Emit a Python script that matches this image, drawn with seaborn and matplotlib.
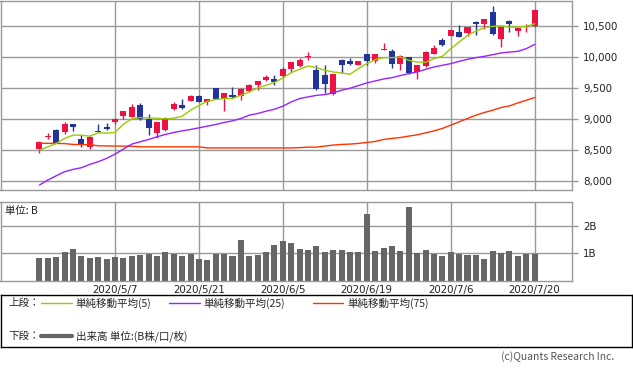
import numpy as np
import pandas as pd
import matplotlib
matplotlib.use("Agg")
import matplotlib.pyplot as plt
import seaborn as sns

# ---- data ----
opens = [8521, 8720, 8823, 8790, 8919, 8677, 8553, 8806, 8871, 8952,
         9048, 9032, 9226, 9000, 8779, 8823, 9161, 9226, 9290, 9371,
         9274, 9500, 9323, 9387, 9371, 9452, 9548, 9629, 9645, 9694,
         9806, 9855, 10010, 9790, 9710, 9403, 9952, 9935, 9871, 10048,
         9935, 10120, 10097, 9887, 10000, 9758, 9855, 10048, 10274, 10339,
         10403, 10387, 10565, 10532, 10726, 10290, 10581, 10419, 10484, 10500]
highs = [8645, 8769, 8839, 8952, 8919, 8742, 8731, 8919, 8935, 9027,
         9129, 9242, 9258, 9081, 8952, 9030, 9274, 9323, 9387, 9387,
         9323, 9510, 9419, 9516, 9500, 9565, 9613, 9710, 9710, 9839,
         9919, 9984, 10081, 9871, 9871, 9726, 9968, 9984, 9940, 10048,
         10060, 10226, 10129, 10030, 10000, 9871, 10097, 10194, 10306, 10435,
         10516, 10484, 10581, 10613, 10823, 10484, 10597, 10468, 10532, 10774]
lows = [8456, 8682, 8608, 8758, 8806, 8553, 8521, 8790, 8818, 8919,
        9000, 9032, 8984, 8742, 8698, 8811, 9145, 9161, 9290, 9274,
        9226, 9323, 9129, 9339, 9306, 9435, 9468, 9613, 9548, 9661,
        9758, 9839, 9952, 9468, 9419, 9387, 9742, 9871, 9871, 9871,
        9903, 10113, 9823, 9790, 9726, 9645, 9839, 10048, 10177, 10339,
        10323, 10339, 10355, 10452, 10355, 10161, 10403, 10339, 10403, 10484]
closes = [8624, 8730, 8608, 8919, 8871, 8597, 8710, 8790, 8839, 9000,
          9129, 9194, 8995, 8860, 8952, 9016, 9242, 9177, 9371, 9274,
          9323, 9323, 9419, 9355, 9484, 9548, 9613, 9677, 9597, 9806,
          9919, 9952, 10020, 9484, 9565, 9726, 9871, 9887, 9935, 9935,
          10048, 10130, 9887, 10016, 9742, 9871, 10081, 10145, 10194, 10435,
          10323, 10484, 10532, 10613, 10371, 10484, 10532, 10468, 10500, 10758]
ma5 = [8500, 8553, 8608, 8689, 8742, 8742, 8726, 8779, 8774, 8785,
       8919, 9005, 9027, 9021, 9016, 9005, 9016, 9048, 9145, 9221,
       9290, 9318, 9334, 9334, 9387, 9440, 9505, 9548, 9592, 9666,
       9753, 9806, 9860, 9836, 9790, 9763, 9747, 9726, 9818, 9898,
       9962, 9995, 9995, 10005, 9952, 9924, 9919, 9979, 10016, 10140,
       10247, 10355, 10424, 10479, 10500, 10511, 10489, 10489, 10500, 10543]
ma25 = [7935, 8016, 8085, 8150, 8188, 8215, 8269, 8312, 8366, 8435,
        8516, 8597, 8634, 8672, 8715, 8753, 8785, 8811, 8833, 8860,
        8887, 8914, 8947, 8973, 9011, 9065, 9092, 9129, 9161, 9210,
        9279, 9334, 9360, 9385, 9398, 9425, 9468, 9500, 9543, 9586,
        9618, 9650, 9672, 9705, 9737, 9763, 9806, 9844, 9871, 9898,
        9935, 9968, 9995, 10016, 10043, 10070, 10086, 10097, 10140, 10210]
ma75 = [8610, 8610, 8608, 8605, 8592, 8590, 8588, 8570, 8568, 8565,
        8565, 8562, 8553, 8553, 8553, 8553, 8553, 8553, 8553, 8553,
        8535, 8535, 8535, 8535, 8535, 8535, 8535, 8535, 8535, 8535,
        8535, 8540, 8548, 8548, 8565, 8581, 8592, 8597, 8608, 8624,
        8640, 8672, 8689, 8704, 8726, 8747, 8779, 8811, 8850, 8903,
        8957, 9011, 9065, 9108, 9145, 9189, 9215, 9263, 9306, 9350]
volume_b = [0.83, 0.83, 0.86, 1.05, 1.16, 0.90, 0.83, 0.86, 0.79, 0.86,
            0.83, 0.90, 0.94, 0.98, 0.90, 1.05, 0.98, 0.90, 0.98, 0.79,
            0.75, 0.98, 0.98, 0.90, 1.49, 0.90, 0.94, 1.05, 1.31, 1.46,
            1.38, 1.16, 1.12, 1.27, 1.05, 1.12, 1.12, 1.05, 1.05, 2.46,
            1.09, 1.20, 1.27, 1.09, 2.72, 1.01, 1.12, 0.98, 0.90, 1.05,
            0.98, 0.94, 0.94, 0.79, 1.09, 1.01, 1.09, 0.90, 0.98, 0.98]
date_tick_pos = [9, 19, 29, 39, 49, 59]
date_tick_labels = ["2020/5/7", "2020/5/21", "2020/6/5", "2020/6/19", "2020/7/6", "2020/7/20"]
price_ticks = [8000, 8500, 9000, 9500, 10000, 10500]
volume_ticks = [1, 2]
legend_labels = ["単純移動平均(5)", "単純移動平均(25)", "単純移動平均(75)"]
volume_label = "出来高 単位:(B株/口/枚)"

# ---- style ----
UP = "#EE1144"
DOWN = "#22339A"
C5 = "#99CC00"
C25 = "#9922FF"
C75 = "#FF3300"
GRID = "#999999"
CJK = ["Noto Sans CJK JP", "DejaVu Sans"]

sns.set_style("white")
plt.rcParams['font.family'] = ["DejaVu Sans", "Noto Sans CJK JP"]

W, H = 633, 375
fig = plt.figure(figsize=(W / 100, H / 100), dpi=100)

def fx(px):
    return px / W

def fy(py):
    return 1 - py / H

XL = (-4.64, 63.45)
idx = np.arange(len(closes))
df = pd.DataFrame({"i": idx, "open": opens, "high": highs, "low": lows,
                   "close": closes, "ma5": ma5, "ma25": ma25, "ma75": ma75,
                   "vol": volume_b})

# ---- top panel ----
ax1 = fig.add_axes([fx(0.5), fy(190), fx(572 - 0.5), (190 - 0.5) / H])
up = df["close"] >= df["open"]
colors = np.where(up, UP, DOWN)
ax1.vlines(df["i"], df["low"], df["high"], colors=colors, lw=1.0, zorder=2)
body_bottom = np.minimum(df["open"], df["close"])
body_h = np.maximum(np.abs(df["close"] - df["open"]), 16)
ax1.bar(df["i"], body_h, bottom=body_bottom, width=0.72, color=colors,
        linewidth=0, zorder=2)
sns.lineplot(data=df, x="i", y="ma75", color=C75, lw=1.0, ax=ax1, zorder=3)
sns.lineplot(data=df, x="i", y="ma25", color=C25, lw=1.0, ax=ax1, zorder=3)
sns.lineplot(data=df, x="i", y="ma5", color=C5, lw=1.0, ax=ax1, zorder=3)
ax1.set_xlim(*XL)
ax1.set_ylim(7855, 10919)
ax1.set_yticks(price_ticks)
ax1.set_yticklabels([f"{v:,}" for v in price_ticks])
ax1.yaxis.tick_right()
ax1.set_xticks(date_tick_pos)
ax1.set_xticklabels([])
ax1.tick_params(axis="x", length=0)
ax1.tick_params(axis="y", length=4, width=1, color=GRID, pad=4,
                labelsize=7.4, labelcolor="#222222")
ax1.grid(True, color=GRID, lw=1)
ax1.set_axisbelow(True)
ax1.set_xlabel("")
ax1.set_ylabel("")
for s in ax1.spines.values():
    s.set_color(GRID)
    s.set_linewidth(1)

# ---- volume panel ----
ax2 = fig.add_axes([fx(0.5), fy(280.5), fx(572 - 0.5), 78.5 / H])
sns.barplot(data=df, x="i", y="vol", native_scale=True, color="#666666",
            saturation=1, width=0.72, linewidth=0, ax=ax2, zorder=2)
ax2.set_xlim(*XL)
ax2.set_ylim(0, 2.89)
ax2.set_yticks(volume_ticks)
ax2.set_yticklabels([f"{v}B" for v in volume_ticks])
ax2.yaxis.tick_right()
ax2.set_xticks(date_tick_pos)
ax2.set_xticklabels(date_tick_labels)
ax2.tick_params(axis="x", length=0, pad=3, labelsize=7.4, labelcolor="#222222")
ax2.tick_params(axis="y", length=4, width=1, color=GRID, pad=4,
                labelsize=7.4, labelcolor="#222222")
ax2.grid(True, color=GRID, lw=1)
ax2.set_axisbelow(True)
ax2.set_xlabel("")
ax2.set_ylabel("")
for s in ax2.spines.values():
    s.set_color(GRID)
    s.set_linewidth(1)
fig.text(fx(5), fy(211), "単位: B", family=CJK, fontsize=7.5,
         va="center", ha="left", color="#222222")

# ---- legend box ----
ax3 = fig.add_axes([fx(0.5), fy(347), fx(631.5), 52 / H])
ax3.set_xlim(0, 631.5)
ax3.set_ylim(52, 0)
ax3.set_xticks([])
ax3.set_yticks([])
for s in ax3.spines.values():
    s.set_color("black")
    s.set_linewidth(1)
r1, r2 = 303 - 295, 336 - 295
ax3.text(8, r1, "上段：", family=CJK, fontsize=7.6, va="center", ha="left")
ax3.text(8, r2, "下段：", family=CJK, fontsize=7.6, va="center", ha="left")
for (x0, x1, tx), c, lab in zip([(40, 71, 75), (168, 199, 203), (312, 342, 347)],
                                [C5, C25, C75], legend_labels):
    ax3.plot([x0, x1], [r1, r1], color=c, lw=1.0)
    ax3.text(tx, r1, lab, family=CJK, fontsize=7.6, va="center", ha="left")
ax3.plot([40, 71], [r2, r2], color="#666666", lw=3)
ax3.text(75, r2, volume_label, family=CJK, fontsize=7.6, va="center", ha="left")

fig.text(fx(614), fy(357), "(c)Quants Research Inc.", family=CJK,
         fontsize=7.4, color="#555555", ha="right", va="center")

fig.savefig("out.png", dpi=100)
